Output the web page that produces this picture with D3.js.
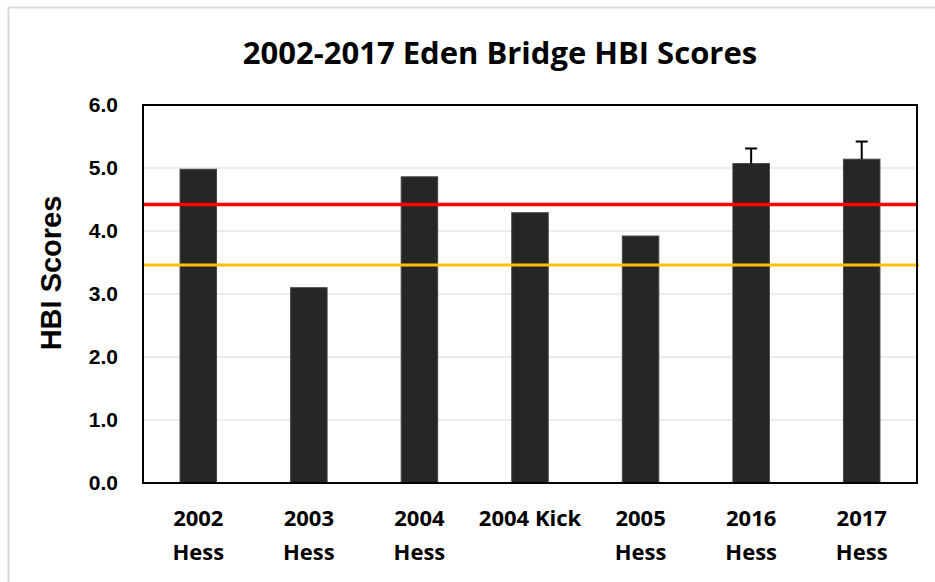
<!DOCTYPE html>
<html>
<head>
<meta charset="utf-8">
<script src="https://cdn.jsdelivr.net/npm/d3@7"></script>
<style>
  body { margin: 0; background: #fff; }
</style>
</head>
<body>
<div id="chart"></div>
<script>
// data
const categories = ["2002 Hess", "2003 Hess", "2004 Hess", "2004 Kick", "2005 Hess", "2016 Hess", "2017 Hess"];
const scores = [4.98, 3.10, 4.86, 4.29, 3.92, 5.07, 5.14];
const errorTops = [null, null, null, null, null, 5.31, 5.42];
const redLevel = 4.42;
const yellowLevel = 3.46;
const yTicks = [0, 1, 2, 3, 4, 5, 6];

const W = 935, H = 582;
const margin = {top: 105, right: 18, bottom: 99, left: 143};
const width = W - margin.left - margin.right;
const height = H - margin.top - margin.bottom;

const svg = d3.select("#chart").append("svg")
    .attr("width", W)
    .attr("height", H);

// outer chart frame (only top/left visible)
svg.append("path")
    .attr("d", "M8.5,582 L8.5,7.5 L935,7.5")
    .attr("fill", "none")
    .attr("stroke", "#d9d9d9")
    .attr("stroke-width", 2);

// title
svg.append("text")
    .attr("x", 500)
    .attr("y", 64)
    .attr("text-anchor", "middle")
    .style("font-family", "'Open Sans', sans-serif")
    .style("font-weight", "700")
    .style("font-size", "31px")
    .attr("fill", "#000")
    .text("2002-2017 Eden Bridge HBI Scores");

const g = svg.append("g")
    .attr("transform", "translate(" + margin.left + "," + margin.top + ")");

const x = d3.scaleBand()
    .domain(categories)
    .range([0, width])
    .paddingInner(0.67)
    .paddingOuter(0.335);

const y = d3.scaleLinear()
    .domain([0, 6])
    .range([height, 0]);

// gridlines
g.selectAll(".grid")
    .data(yTicks.slice(1, -1))
    .enter().append("line")
    .attr("x1", 0).attr("x2", width)
    .attr("y1", d => y(d)).attr("y2", d => y(d))
    .attr("stroke", "#d9d9d9")
    .attr("stroke-width", 1);

// bars
g.selectAll(".bar")
    .data(scores)
    .enter().append("rect")
    .attr("x", (d, i) => x(categories[i]))
    .attr("y", d => y(d))
    .attr("width", x.bandwidth())
    .attr("height", d => height - y(d))
    .attr("fill", "#262626")
    .attr("stroke", "#444")
    .attr("stroke-width", 1);

// error bars
const errs = errorTops.map((t, i) => ({t: t, i: i})).filter(d => d.t !== null);
g.selectAll(".err")
    .data(errs)
    .enter().append("line")
    .attr("x1", d => x(categories[d.i]) + x.bandwidth() / 2)
    .attr("x2", d => x(categories[d.i]) + x.bandwidth() / 2)
    .attr("y1", d => y(scores[d.i]))
    .attr("y2", d => y(d.t))
    .attr("stroke", "#000")
    .attr("stroke-width", 2);
g.selectAll(".cap")
    .data(errs)
    .enter().append("line")
    .attr("x1", d => x(categories[d.i]) + x.bandwidth() / 2 - 6)
    .attr("x2", d => x(categories[d.i]) + x.bandwidth() / 2 + 6)
    .attr("y1", d => y(d.t))
    .attr("y2", d => y(d.t))
    .attr("stroke", "#000")
    .attr("stroke-width", 2);

// reference lines
g.append("line")
    .attr("x1", 0).attr("x2", width)
    .attr("y1", y(redLevel)).attr("y2", y(redLevel))
    .attr("stroke", "#ff0000")
    .attr("stroke-width", 3.5);
g.append("line")
    .attr("x1", 0).attr("x2", width + 2)
    .attr("y1", y(yellowLevel)).attr("y2", y(yellowLevel))
    .attr("stroke", "#ffc000")
    .attr("stroke-width", 3);

// plot border
g.append("rect")
    .attr("x", 0).attr("y", 0)
    .attr("width", width).attr("height", height)
    .attr("fill", "none")
    .attr("stroke", "#000")
    .attr("stroke-width", 2);

// y axis labels
const yAxis = g.append("g")
    .call(d3.axisLeft(y).tickValues(yTicks).tickFormat(d3.format(".1f")).tickSize(0).tickPadding(25));
yAxis.select(".domain").remove();
yAxis.selectAll("text")
    .style("font-family", "'Liberation Sans', Arial, sans-serif")
    .style("font-weight", "700")
    .style("font-size", "21px")
    .attr("fill", "#000");

// x axis labels (two lines)
const xAxis = g.append("g")
    .attr("transform", "translate(0," + height + ")")
    .call(d3.axisBottom(x).tickSize(0).tickFormat(""));
xAxis.select(".domain").remove();
xAxis.selectAll(".tick").each(function(d) {
    const parts = d.split(" ");
    const t = d3.select(this).append("text")
        .attr("text-anchor", "middle")
        .style("font-family", "'Open Sans', sans-serif")
        .style("font-weight", "700")
        .style("font-size", "22px")
        .attr("fill", "#000");
    if (parts[1] === "Kick") {
        t.append("tspan").attr("x", 0).attr("y", 43).text(d);
    } else {
        t.append("tspan").attr("x", 0).attr("y", 43).text(parts[0]);
        t.append("tspan").attr("x", 0).attr("y", 77).text(parts[1]);
    }
});

// y axis title
svg.append("text")
    .attr("transform", "translate(61,273) rotate(-90)")
    .attr("text-anchor", "middle")
    .style("font-family", "'Liberation Sans', Arial, sans-serif")
    .style("font-weight", "700")
    .style("font-size", "29px")
    .attr("fill", "#000")
    .text("HBI Scores");
</script>
</body>
</html>
